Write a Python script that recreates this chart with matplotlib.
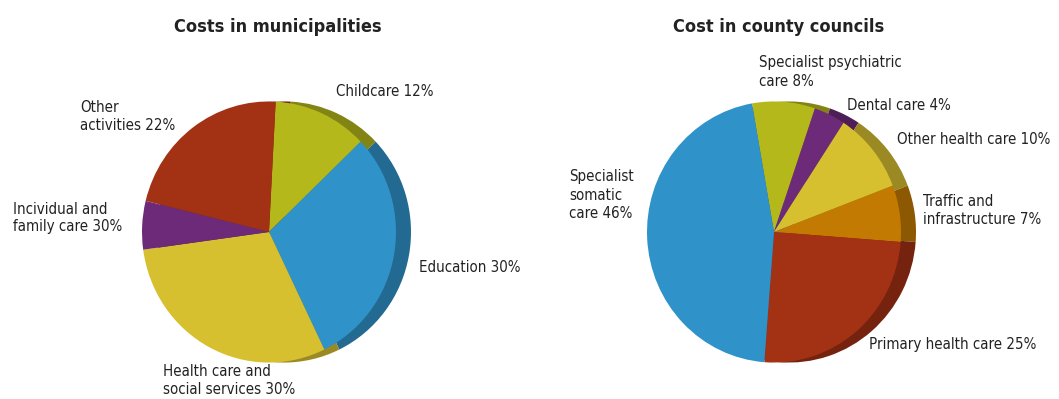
import matplotlib
matplotlib.use("Agg")
import matplotlib.pyplot as plt
import matplotlib.colors as mcolors

W, H = 1059, 399
KY = 1.028  # slight vertical stretch of the pies (reference is a bit taller than wide)

# ---- data ----
muni_title = "Costs in municipalities"
muni_labels = ["Childcare 12%", "Education 30%", "Health care and\nsocial services 30%",
               "Incividual and\nfamily care 30%", "Other\nactivities 22%"]
muni_values = [12, 30, 30, 6, 22]
muni_colors = ["#b4b81a", "#2f93c9", "#d7c030", "#6d2a78", "#a33114"]

county_title = "Cost in county councils"
county_labels = ["Specialist psychiatric\ncare 8%", "Dental care 4%", "Other health care 10%",
                 "Traffic and\ninfrastructure 7%", "Primary health care 25%",
                 "Specialist\nsomatic\ncare 46%"]
county_values = [8, 4, 10, 7, 25, 46]
county_colors = ["#b4b81a", "#6d2a78", "#d7c030", "#c27a02", "#a33114", "#2f93c9"]

fig = plt.figure(figsize=(W / 100, H / 100), dpi=100)
ax = fig.add_axes([0, 0, 1, 1])

FONT = dict(family="DejaVu Sans", stretch="condensed", color="#222222")


def Y(ypx):
    return (H - ypx) / KY


def darker(c, f=0.72):
    r, g, b = mcolors.to_rgb(c)
    return (r * f, g * f, b * f)


def draw_pie(values, colors, cx, cy, r, start):
    # side/extrusion (darker copy offset to the right)
    ax.pie(values, colors=[darker(c) for c in colors], startangle=start,
           counterclock=False, radius=r, center=(cx + 15, Y(cy)),
           frame=True, wedgeprops=dict(linewidth=0))
    ax.pie(values, colors=colors, startangle=start, counterclock=False,
           radius=r, center=(cx, Y(cy)), frame=True,
           wedgeprops=dict(linewidth=0))


draw_pie(muni_values, muni_colors, 269, 232, 127, 87)
draw_pie(county_values, county_colors, 774, 232, 127, 100)

ax.set_xlim(0, W)
ax.set_ylim(0, H / KY)
ax.set_aspect("auto")
ax.axis("off")

ax.text(278, Y(27), muni_title, ha="center", va="center", fontsize=13,
        fontweight="bold", **FONT)
ax.text(779, Y(27), county_title, ha="center", va="center", fontsize=13,
        fontweight="bold", **FONT)

muni_pos = [(336, 92), (419, 267), (163, 381), (13, 218), (80, 116)]
county_pos = [(759, 72), (847, 105), (897, 139), (923, 210), (869, 344), (569, 195)]

for lab, (x, y) in zip(muni_labels, muni_pos):
    ax.text(x, Y(y), lab, ha="left", va="center", fontsize=10.8,
            linespacing=1.25, **FONT)
for lab, (x, y) in zip(county_labels, county_pos):
    ax.text(x, Y(y), lab, ha="left", va="center", fontsize=10.8,
            linespacing=1.25, **FONT)

fig.savefig("out.png", dpi=100)
